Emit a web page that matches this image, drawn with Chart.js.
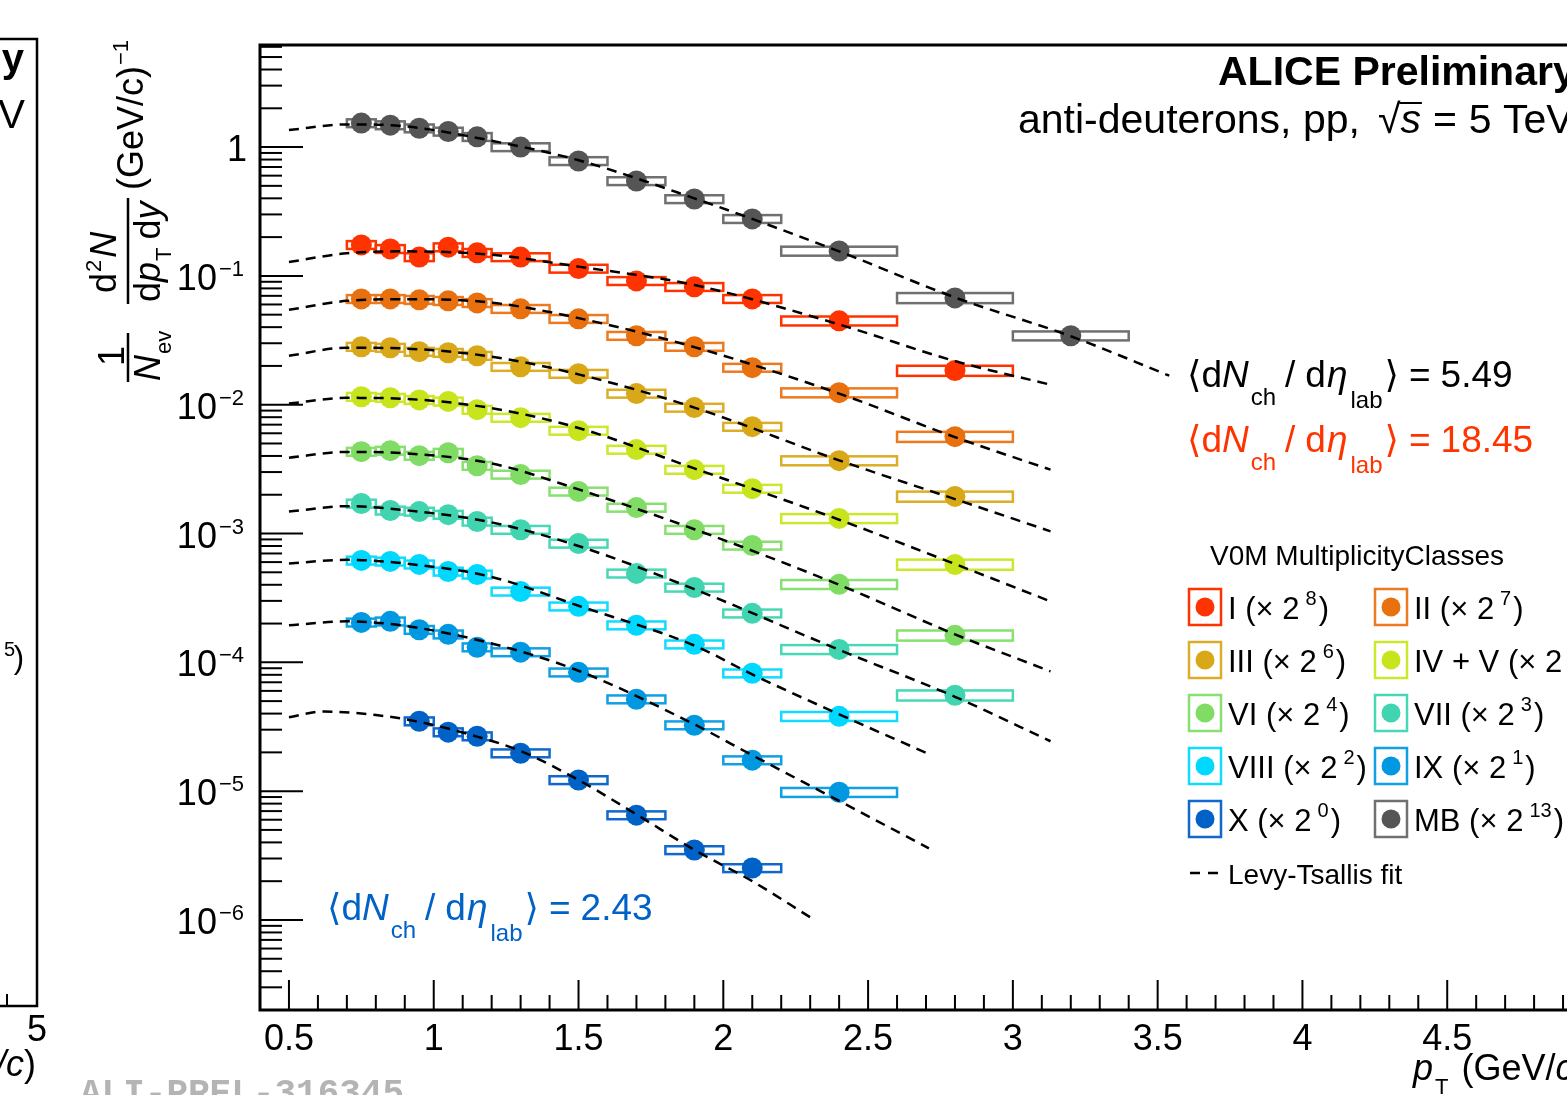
<!DOCTYPE html>
<html>
<head>
<meta charset="utf-8">
<title>ALICE Preliminary - anti-deuteron spectra</title>
<script src="https://cdn.jsdelivr.net/npm/chart.js@4.4.1/dist/chart.umd.min.js"></script>
<style>
  html, body { margin: 0; padding: 0; background: #fff; overflow: hidden; }
  #wrap { position: absolute; left: 0; top: 0; width: 1620px; height: 1095px; }
  canvas { display: block; }
</style>
</head>
<body>
<div id="wrap"><canvas id="spectra" width="1620" height="1095"></canvas></div>
<script>
// pT bins (GeV/c)
const ptCenter = [0.75, 0.85, 0.95, 1.05, 1.15, 1.3, 1.5, 1.7, 1.9, 2.1, 2.4, 2.8, 3.2];
const binLow   = [0.7, 0.8, 0.9, 1.0, 1.1, 1.2, 1.4, 1.6, 1.8, 2.0, 2.2, 2.6, 3.0];
const binHigh  = [0.8, 0.9, 1.0, 1.1, 1.2, 1.4, 1.6, 1.8, 2.0, 2.2, 2.6, 3.0, 3.4];
// relative systematic uncertainty (box half height)
const sysRel   = [0.07, 0.07, 0.07, 0.07, 0.07, 0.07, 0.07, 0.07, 0.07, 0.07, 0.08, 0.09, 0.08];

// scaled yields per multiplicity class
const yieldI    = [0.174, 0.162, 0.140, 0.167, 0.151, 0.140, 0.114, 0.0914, 0.0822, 0.0663, 0.0448, 0.0184, null];
const yieldII   = [0.0663, 0.0663, 0.0652, 0.064, 0.0617, 0.0555, 0.0464, 0.0343, 0.0282, 0.0194, 0.0124, 0.00565, null];
const yieldIII  = [0.0282, 0.0277, 0.0258, 0.0253, 0.024, 0.0197, 0.0174, 0.0122, 0.0095, 0.00675, 0.00368, 0.00194, null];
const yieldIVV  = [0.01153, 0.01133, 0.0109, 0.0106, 0.00915, 0.00793, 0.00629, 0.00448, 0.00313, 0.00223, 0.00131, 0.000575, null];
const yieldVI   = [0.00432, 0.0044, 0.00402, 0.00424, 0.00336, 0.00287, 0.00212, 0.00159, 0.00107, 0.000807, 0.000403, 0.000162, null];
const yieldVII  = [0.00171, 0.00151, 0.00148, 0.0014, 0.00124, 0.00107, 0.000836, 0.00049, 0.000381, 0.00024, 0.000126, 0.0000555, null];
const yieldVIII = [0.000618, 0.000607, 0.000576, 0.000507, 0.000481, 0.000355, 0.000272, 0.000194, 0.000138, 0.0000822, 0.0000381, null, null];
const yieldIX   = [0.000204, 0.000208, 0.000179, 0.000165, 0.000131, 0.00012, 0.0000836, 0.0000517, 0.0000325, 0.0000174, 0.0000098, null, null];
const yieldX    = [null, null, 0.0000349, 0.0000287, 0.0000267, 0.0000197, 0.0000122, 0.00000651, 0.00000349, 0.00000253, null, null, null];
const yieldMB   = [1.535, 1.48, 1.40, 1.32, 1.20, 1.0, 0.78, 0.545, 0.395, 0.277, 0.156, 0.0675, 0.0343];

// Levy-Tsallis fit curves
const fitXMB    = [0.5, 0.7, 0.9, 1.2, 1.5, 1.9, 2.4, 2.8, 3.2, 3.54];
const fitXLong  = [0.5, 0.7, 0.9, 1.2, 1.5, 1.9, 2.4, 2.8, 3.13];
const fitXMid   = [0.5, 0.7, 0.9, 1.2, 1.5, 1.9, 2.1, 2.4, 2.71];
const fitXShort = [0.5, 0.62, 0.8, 0.95, 1.15, 1.3, 1.5, 1.7, 1.9, 2.1, 2.3];
const fitMB   = [1.355, 1.50, 1.45, 1.12, 0.79, 0.40, 0.155, 0.068, 0.034, 0.0168];
const fitI    = [0.128, 0.150, 0.155, 0.146, 0.118, 0.085, 0.042, 0.0218, 0.0143];
const fitII   = [0.0545, 0.064, 0.066, 0.062, 0.047, 0.028, 0.0122, 0.0056, 0.00313];
const fitIII  = [0.024, 0.0277, 0.0273, 0.0236, 0.0172, 0.0095, 0.0037, 0.00185, 0.00104];
const fitIVV  = [0.0102, 0.0113, 0.0111, 0.0094, 0.0066, 0.0032, 0.00128, 0.00058, 0.000297];
const fitVI   = [0.00388, 0.0043, 0.0042, 0.0035, 0.0022, 0.00108, 0.00040, 0.000165, 0.0000851];
const fitVII  = [0.00148, 0.00163, 0.00152, 0.00122, 0.00080, 0.00037, 0.000125, 0.000054, 0.0000244];
const fitVIII = [0.000585, 0.000625, 0.000585, 0.00046, 0.000275, 0.000135, 0.0000806, 0.0000395, 0.0000194];
const fitIX   = [0.000194, 0.000208, 0.000192, 0.000140, 0.000086, 0.000033, 0.000019, 0.0000084, 0.0000036];
const fitX    = [0.0000375, 0.0000415, 0.000039, 0.0000345, 0.0000265, 0.0000205, 0.0000122, 0.0000066, 0.0000035, 0.000002, 0.00000105];

const classNames  = ["I", "II", "III", "IV + V", "VI", "VII", "VIII", "IX", "X", "MB"];
const scalePowers = [8, 7, 6, 5, 4, 3, 2, 1, 0, 13];

const xTickLabels = ["0.5", "1", "1.5", "2", "2.5", "3", "3.5", "4", "4.5"];
const yTickExps   = [0, -1, -2, -3, -4, -5, -6];

const series = [
  { name: "I",      color: "#ff3300", box: "#ff3300", pts: yieldI,    fx: fitXLong,  fy: fitI },
  { name: "II",     color: "#e8700e", box: "#ee7a20", pts: yieldII,   fx: fitXLong,  fy: fitII },
  { name: "III",    color: "#d8a818", box: "#dcae28", pts: yieldIII,  fx: fitXLong,  fy: fitIII },
  { name: "IV + V", color: "#c8e41c", box: "#cde82c", pts: yieldIVV,  fx: fitXLong,  fy: fitIVV },
  { name: "VI",     color: "#80dc64", box: "#88e070", pts: yieldVI,   fx: fitXLong,  fy: fitVI },
  { name: "VII",    color: "#40d4b0", box: "#48d8b6", pts: yieldVII,  fx: fitXLong,  fy: fitVII },
  { name: "VIII",   color: "#00d8ff", box: "#10dcff", pts: yieldVIII, fx: fitXMid,   fy: fitVIII },
  { name: "IX",     color: "#0098e0", box: "#10a0e4", pts: yieldIX,   fx: fitXMid,   fy: fitIX },
  { name: "X",      color: "#0062c6", box: "#1068cc", pts: yieldX,    fx: fitXShort, fy: fitX },
  { name: "MB",     color: "#555555", box: "#707070", pts: yieldMB,   fx: fitXMB,    fy: fitMB },
];

const SANS = '"Liberation Sans", "DejaVu Sans", Arial, sans-serif';
const f = (size, style) => (style ? style + " " : "") + size + "px " + SANS;

// draws a run of text pieces (sub/superscripts) left to right
function drawParts(ctx, x, y, parts, color) {
  ctx.fillStyle = color;
  ctx.textAlign = "left";
  ctx.textBaseline = "alphabetic";
  let cx = x;
  for (const p of parts) {
    cx += p.pre || 0;
    ctx.font = p.f;
    ctx.fillText(p.t, cx, y + (p.dy || 0));
    cx += ctx.measureText(p.t).width;
  }
  return cx;
}

function drawRot(ctx, sx, sy, parts, color) {
  ctx.save();
  ctx.translate(sx, sy);
  ctx.rotate(-Math.PI / 2);
  drawParts(ctx, 0, 0, parts, color);
  ctx.restore();
}

function line(ctx, x1, y1, x2, y2) {
  ctx.beginPath();
  ctx.moveTo(x1, y1);
  ctx.lineTo(x2, y2);
  ctx.stroke();
}

function dndeta(value) {
  return [
    { t: "⟨d", f: f(37) },
    { t: "N", f: f(37, "italic") },
    { t: "ch", f: f(24), dy: 18, pre: 2 },
    { t: "/", f: f(37), pre: 9 },
    { t: "d", f: f(37), pre: 10 },
    { t: "η", f: f(37, "italic"), pre: 1 },
    { t: "lab", f: f(24), dy: 21, pre: 3 },
    { t: "⟩", f: f(37), pre: 2 },
    { t: "=", f: f(37), pre: 10 },
    { t: value, f: f(37), pre: 10 },
  ];
}

// frame, inward ticks and systematic boxes
const framePlugin = {
  id: "frameTicks",
  beforeDatasetsDraw(chart) {
    const { ctx, chartArea: a, scales } = chart;
    const xs = scales.x, ys = scales.y;
    ctx.save();
    ctx.strokeStyle = "#000";
    ctx.lineWidth = 2;
    for (let i = 4; i <= 50; i++) {
      const px = xs.getPixelForValue(i / 10);
      if (px <= a.left + 1) continue;
      line(ctx, px, a.bottom, px, a.bottom - (i % 5 === 0 ? 30 : 15));
    }
    for (let e = -7; e <= 0; e++) {
      for (let m = 1; m <= 9; m++) {
        const v = m * Math.pow(10, e);
        if (v < ys.min || v > ys.max) continue;
        const py = ys.getPixelForValue(v);
        line(ctx, a.left, py, a.left + (m === 1 ? 43 : 22), py);
      }
    }
    ctx.lineWidth = 3;
    ctx.strokeRect(a.left, a.top, a.right - a.left, a.bottom - a.top);

    // systematic uncertainty boxes
    ctx.lineWidth = 2.5;
    for (const s of series) {
      ctx.strokeStyle = s.box;
      s.pts.forEach((v, j) => {
        if (v == null) return;
        const x1 = xs.getPixelForValue(binLow[j]);
        const x2 = xs.getPixelForValue(binHigh[j]);
        const y1 = ys.getPixelForValue(v * (1 + sysRel[j]));
        const y2 = ys.getPixelForValue(v * (1 - sysRel[j]));
        ctx.strokeRect(x1, y1, x2 - x1, y2 - y1);
      });
    }
    ctx.restore();
  },
  afterDraw(chart) {
    const { ctx, scales } = chart;
    const xs = scales.x, ys = scales.y;
    ctx.save();

    // x tick labels
    ctx.font = f(36);
    ctx.fillStyle = "#000";
    ctx.textAlign = "center";
    ctx.textBaseline = "alphabetic";
    xTickLabels.forEach((lab) => {
      ctx.fillText(lab, xs.getPixelForValue(parseFloat(lab)), 1050);
    });

    // y tick labels
    yTickExps.forEach((e) => {
      const py = ys.getPixelForValue(Math.pow(10, e));
      ctx.textAlign = "right";
      if (e === 0) {
        ctx.font = f(36);
        ctx.fillText("1", 247, py + 14);
      } else {
        ctx.font = f(22);
        const sup = "−" + Math.abs(e);
        ctx.fillText(sup, 244, py);
        const w = ctx.measureText(sup).width;
        ctx.font = f(36);
        ctx.fillText("10", 244 - w - 2, py + 14);
      }
    });

    // x axis title
    drawParts(ctx, 1413, 1080, [
      { t: "p", f: f(36, "italic") },
      { t: "T", f: f(22), dy: 14, pre: 2 },
      { t: "(GeV/", f: f(36), pre: 13 },
      { t: "c", f: f(36, "italic") },
      { t: ")", f: f(36) },
    ], "#000");

    // y axis title
    ctx.strokeStyle = "#000";
    ctx.lineWidth = 2.5;
    drawRot(ctx, 124, 366, [{ t: "1", f: f(36) }], "#000");
    line(ctx, 128, 333, 128, 382);
    drawRot(ctx, 160, 381, [
      { t: "N", f: f(36, "italic") },
      { t: "ev", f: f(22), dy: 11, pre: 1 },
    ], "#000");
    drawRot(ctx, 116, 293, [
      { t: "d", f: f(36) },
      { t: "2", f: f(22), dy: -15, pre: 1 },
      { t: "N", f: f(36, "italic"), pre: 2 },
    ], "#000");
    line(ctx, 128, 198, 128, 304);
    drawRot(ctx, 160, 302, [
      { t: "d", f: f(36) },
      { t: "p", f: f(36, "italic") },
      { t: "T", f: f(22), dy: 11, pre: 1 },
      { t: "d", f: f(36), pre: 8 },
      { t: "y", f: f(36, "italic") },
    ], "#000");
    drawRot(ctx, 143, 190, [
      { t: "(GeV/c)", f: f(36) },
      { t: "−1", f: f(22), dy: -15, pre: 1 },
    ], "#000");

    // header
    drawParts(ctx, 1218, 85, [{ t: "ALICE Preliminary", f: f(41, "bold") }], "#000");
    let cx = drawParts(ctx, 1018, 133, [{ t: "anti-deuterons, pp,", f: f(41) }], "#000");
    cx = drawParts(ctx, cx + 18, 133, [{ t: "√", f: f(41) }], "#000");
    const sEnd = drawParts(ctx, cx, 133, [{ t: "s", f: f(41, "italic") }], "#000");
    ctx.lineWidth = 2;
    line(ctx, cx - 1, 103, sEnd + 1, 103);
    drawParts(ctx, sEnd, 133, [
      { t: "=", f: f(41), pre: 12 },
      { t: "5 TeV", f: f(41), pre: 12 },
    ], "#000");

    // <dNch/deta> annotations
    drawParts(ctx, 1187, 387, dndeta("5.49"), "#000");
    drawParts(ctx, 1187, 452, dndeta("18.45"), "#ff3300");
    drawParts(ctx, 327, 920, dndeta("2.43"), "#0062c6");

    // legend
    drawParts(ctx, 1210, 565, [{ t: "V0M MultiplicityClasses", f: f(28) }], "#000");
    const rowY = [607, 660, 713, 766, 819];
    const colX = [1189, 1375];
    series.forEach((s, k) => {
      const cy = rowY[Math.floor(k / 2)];
      const bx = colX[k % 2];
      ctx.strokeStyle = s.box;
      ctx.lineWidth = 2.5;
      ctx.strokeRect(bx, cy - 18, 32, 36);
      ctx.fillStyle = s.color;
      ctx.beginPath();
      ctx.arc(bx + 16, cy, 9.5, 0, Math.PI * 2);
      ctx.fill();
      drawParts(ctx, bx + 39, cy + 12, [
        { t: classNames[k] + " (× 2", f: f(31) },
        { t: String(scalePowers[k]), f: f(20), dy: -14, pre: 6 },
        { t: ")", f: f(31), pre: 2 },
      ], "#000");
    });
    ctx.strokeStyle = "#000";
    ctx.lineWidth = 2.5;
    ctx.setLineDash([10, 8]);
    line(ctx, 1190, 873, 1218, 873);
    ctx.setLineDash([]);
    drawParts(ctx, 1228, 884, [{ t: "Levy-Tsallis fit", f: f(28) }], "#000");

    // neighbouring panel (cut at the left edge)
    ctx.strokeStyle = "#000";
    ctx.lineWidth = 2.5;
    ctx.beginPath();
    ctx.moveTo(0, 39);
    ctx.lineTo(37, 39);
    ctx.lineTo(37, 1006);
    ctx.lineTo(0, 1006);
    ctx.stroke();
    ctx.lineWidth = 2;
    line(ctx, 7, 1006, 7, 994);
    ctx.textAlign = "right";
    ctx.fillStyle = "#000";
    ctx.font = f(40, "bold");
    ctx.fillText("y", 24, 72);
    ctx.font = f(40);
    ctx.fillText("V", 25, 128);
    ctx.font = f(20);
    ctx.fillText("5", 15, 656);
    ctx.font = f(31);
    ctx.fillText(")", 24, 668);
    ctx.textAlign = "center";
    ctx.font = f(36);
    ctx.fillText("5", 37, 1041);
    ctx.textAlign = "right";
    ctx.font = f(36);
    ctx.fillText(")", 36, 1076);
    const rw = ctx.measureText(")").width;
    ctx.font = f(36, "italic");
    ctx.fillText("/c", 36 - rw, 1076);

    // preliminary figure id
    ctx.textAlign = "left";
    ctx.fillStyle = "#b4b4b4";
    ctx.font = 'bold 36px "Liberation Mono", "DejaVu Sans Mono", monospace';
    ctx.fillText("ALI-PREL-316345", 80, 1104);
    ctx.restore();
  },
};

const datasets = [];
series.forEach((s) => {
  datasets.push({
    type: "line",
    label: s.name + " fit",
    data: s.fx.map((x, j) => ({ x: x, y: s.fy[j] })),
    borderColor: "#000",
    borderWidth: 2.5,
    borderDash: [10, 7],
    pointRadius: 0,
    cubicInterpolationMode: "monotone",
    fill: false,
    order: 1,
  });
});
series.forEach((s) => {
  datasets.push({
    type: "scatter",
    label: s.name,
    data: s.pts.map((v, j) => (v == null ? null : { x: ptCenter[j], y: v })).filter(Boolean),
    backgroundColor: s.color,
    borderColor: s.color,
    borderWidth: 0,
    pointRadius: 10.5,
    order: 2,
  });
});

new Chart(document.getElementById("spectra"), {
  type: "scatter",
  data: { datasets: datasets },
  options: {
    responsive: false,
    animation: false,
    layout: { padding: { left: 260, top: 45, right: 28, bottom: 85 } },
    plugins: { legend: { display: false }, tooltip: { enabled: false } },
    scales: {
      x: { type: "linear", min: 0.4, max: 5.0, display: false },
      y: { type: "logarithmic", min: 2e-7, max: 6.2, display: false },
    },
  },
  plugins: [framePlugin],
});
</script>
</body>
</html>
